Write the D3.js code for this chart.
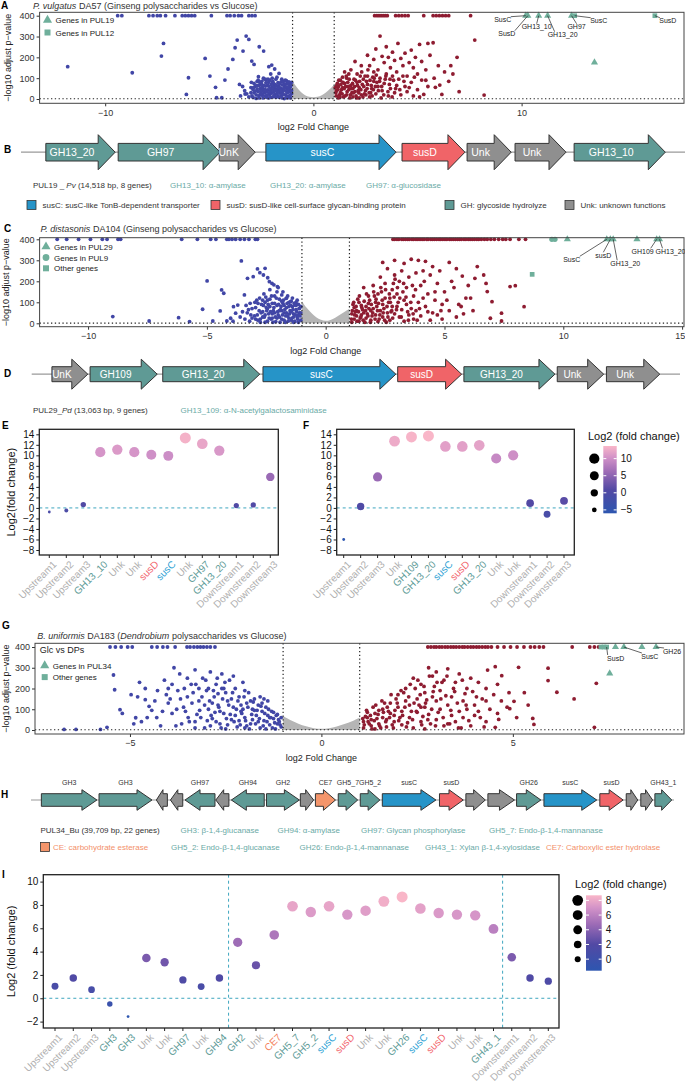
<!DOCTYPE html>
<html>
<head>
<meta charset="utf-8">
<script src="https://cdn.jsdelivr.net/npm/d3@7"></script>
<style>
body{margin:0;background:#fff}
text{font-family:"Liberation Sans",Arial,Helvetica,sans-serif}
</style>
</head>
<body>
<svg id="fig" width="685" height="1085"></svg>
<script>
// ---------------- volcano A : P. vulgatus DA57 ----------------
var aDownTop = [-9.4,-9.2,-7.9,-7.7,-7.5,-7.35,-7.1,-6.65,-6.3,-6.15,-6.0,-5.85,-5.7,-4.9,-4.15,-4.0,-3.8,-3.6,-3.45,-3.1,-2.95,-2.8];
var aUpTop = [2.94,3.05,3.15,3.25,3.35,3.45,3.55,3.95,4.1,4.25,4.4,4.55,5.3,5.75,5.9,6.05,6.2,6.35,6.5,7.55];
var aDown = [[-11.8,155],[-8.7,126],[-7.2,267],[-7.3,206],[-6.0,102],[-6.1,22],[-5.2,195],[-4.97,110],[-4.7,56],[-4.65,6],[-4.4,6],[-4.25,91],[-4.1,144],[-3.87,190],[-3.76,246],[-3.66,283],[-3.38,230],[-3.23,302],[-3.1,286],[-2.96,182],[-2.85,166],[-2.6,251],[-2.39,230],[-2.14,155],[-2.0,163],[-1.86,144],[-1.65,123],[-3.55,70],[-3.28,24],[-2.9,46],[-2.64,107],[-2.43,46],[-2.28,94],[-1.97,75],[-1.54,46],[-1.23,43],
 [-3.1,10],[-3.0,30],[-2.9,8],[-2.8,60],[-2.75,20],[-2.7,85],[-2.65,35],[-2.6,5],[-2.55,50],[-2.5,72],[-2.45,18],[-2.4,100],[-2.35,30],[-2.3,62],[-2.25,8],[-2.2,44],[-2.15,80],[-2.1,22],[-2.05,120],[-2.0,55],[-1.95,10],[-1.9,35],[-1.85,70],[-1.8,95],[-1.75,48],[-1.7,15],[-1.65,62],[-1.6,28],[-1.55,82],[-1.5,5],[-1.45,40],[-1.4,65],[-1.35,20],[-1.3,52],[-1.25,75],[-1.2,12],[-1.15,35],[-1.1,58],[-1.05,80],[-1.05,25],[-1.1,5],[-1.2,45],[-1.3,88],[-1.4,2],[-1.5,30],[-1.6,50],[-1.7,78],[-1.8,8],[-1.9,60],[-2.0,28],[-2.1,90],[-2.2,65],[-2.3,15],[-2.4,40],[-2.5,28],[-2.6,65],[-2.7,48],[-2.85,30],[-3.0,55],[-3.3,40],[-3.5,15],[-1.15,70],[-1.25,30],[-1.35,60],[-1.45,85],[-1.55,15],[-1.65,40],[-1.75,25],[-1.85,50],[-1.95,85],[-2.05,40],[-2.15,5],
 [-2.95,15],[-2.85,75],[-2.75,3],[-2.65,90],[-2.55,22],[-2.45,58],[-2.35,95],[-2.25,35],[-2.15,62],[-2.05,8],[-1.95,48],[-1.85,22],[-1.75,105],[-1.65,8],[-1.55,52],[-1.45,22],[-1.35,90],[-1.25,5],[-1.15,50],[-1.05,40],[-1.08,65],[-1.12,18],[-1.18,82],[-1.22,58],[-1.28,12],[-1.32,38],[-1.38,72],[-1.42,50],[-1.48,68],[-1.52,95],[-1.58,40],[-1.62,75],[-1.68,55],[-1.72,35],[-1.78,65],[-1.82,40],[-1.88,15],[-1.92,75],[-1.98,100],[-2.02,70],[-2.08,52],[-2.12,30],[-2.18,95],[-2.22,20],[-2.28,78],[-2.32,45],[-2.38,65],[-2.42,5],[-2.48,85],[-2.52,40],[-2.58,80],[-2.62,15],[-2.72,65],[-2.78,38],[-2.88,55],[-2.98,80],[-3.2,25],[-3.4,60]];
var aUp = [[2.9,190],[3.2,302],[3.5,251],[4.06,267],[4.7,235],[5.1,262],[5.5,267],[5.75,270],[7.75,283],[6.9,200],[6.7,120],[6.07,67],[5.86,56],[7.0,35],[8.2,19],[6.17,22],[5.3,22],[5.2,91],
 [2.6,210],[2.7,160],[3.0,240],[3.1,140],[3.3,205],[3.4,175],[3.6,200],[3.7,150],[3.8,225],[3.9,185],[4.0,130],[4.2,195],[4.3,160],[4.4,220],[4.5,110],[4.6,175],[4.8,150],[4.9,200],[5.0,120],[5.2,180],[5.4,140],[5.6,210],[5.8,100],[6.0,160],[6.3,130],[6.5,85],[6.6,160],[5.5,60],[5.0,45],[4.7,80],[4.4,60],[4.1,95],[3.8,110],[3.5,120],[3.2,100],[2.9,130],[2.6,110],[2.3,160],[2.1,120],[2.0,180],[1.8,140],[1.6,100],[1.5,130],[1.3,90],[1.2,60],[1.1,40],[1.1,15],[1.2,5],[1.3,30],[1.4,55],[1.5,75],[1.6,20],[1.7,45],[1.8,65],[1.9,10],[2.0,35],[2.1,80],[2.2,55],[2.3,20],[2.4,95],[2.5,40],[2.6,70],[2.7,10],[2.8,50],[2.9,85],[3.0,25],[3.1,60],[3.3,40],[3.4,75],[3.6,15],[3.7,50],[3.9,30],[4.0,65],[4.2,20],[4.5,35],[4.8,15],[5.1,10],[1.15,75],[1.25,20],[1.35,45],[1.45,10],[1.55,60],[1.65,80],[1.75,5],[1.85,30],[1.95,95],[2.05,15],[2.15,40],[2.25,110],[2.35,70],[2.45,25],[2.55,85],[2.75,30],[2.85,105],[3.05,80],[3.25,5],[3.45,95],[3.65,70],[3.85,90],[4.35,85],[1.05,55],[1.9,50],[2.2,5],[1.4,105],[1.7,120],
 [1.08,30],[1.12,65],[1.18,45],[1.22,90],[1.28,10],[1.32,70],[1.38,25],[1.42,80],[1.48,50],[1.52,15],[1.58,110],[1.62,35],[1.68,60],[1.72,95],[1.78,20],[1.82,50],[1.88,75],[1.92,30],[1.98,60],[2.02,90],[2.08,5],[2.12,65],[2.18,30],[2.22,85],[2.28,45],[2.32,130],[2.38,10],[2.42,60],[2.48,110],[2.52,20],[2.58,50],[2.62,140],[2.68,30],[2.72,90],[2.78,65],[2.82,15],[2.88,45],[2.92,100],[2.98,60],[3.02,115],[3.12,40],[3.18,85],[3.28,60],[3.38,20],[3.48,110],[3.58,35],[3.68,95],[3.78,10],[3.95,50],[4.15,45],[4.3,110],[4.6,55],[4.85,105],[5.4,90]];
var aNs = [[-1,85],[-0.8,55],[-0.6,32],[-0.4,17],[-0.2,10],[0,8],[0.2,10],[0.4,17],[0.6,30],[0.8,48],[1,70]];
var aPulX = [10.2,10.3,10.82,11.25,12.4,12.55,16.4,13.5];
var aPulY = [400,400,400,400,400,400,400,176];
var aPulShape = ["tri","tri","tri","tri","tri","sq","sq","tri"];
var aPulName = ["SusC","SusD","GH13_10","GH13_20","GH97","SusC","SusD",""];
var aLegend = ["Genes in PUL19","Genes in PUL12"];

// ---------------- volcano C : P. distasonis DA104 ----------------
var cDownTop = [-11.3,-10.9,-10.4,-9.9,-9.4,-9.2,-8.74,-8.63,-6.06,-5.4,-4.84,-4.62,-4.16,-4.07,-3.94,-3.79,-3.6,-3.42,-3.23,-2.96,-2.87];
var cUpTop = [2.83,2.9,3.0,3.08,3.2,3.27,3.36,3.45,3.52,3.63,3.7,3.8,3.88,3.97,4.06,4.14,4.25,4.31,4.42,4.5,4.58,4.67,4.77,4.84,4.93,5.02,5.1,5.21,5.28,5.37,5.46,5.55,5.63,5.71,5.82,5.9,6.0,6.08,6.17,6.26,6.36,6.44,6.55,6.68,6.8,6.95,7.1,7.28,7.45,7.58,7.76,8.13,8.41];
var cDown = [[-8.96,32],[-7.43,11],[-6.19,27],[-5.73,8],[-5.18,67],[-4.99,202],[-4.75,11],[-4.38,159],[-4.29,143],[-4.44,59],[-4.16,11],[-4.0,24],[-3.88,79],[-3.79,48],[-3.7,87],[-3.55,297],[-3.42,135],[-3.29,214],[-3.18,95],[-3.05,222],[-2.87,259],[-2.77,241],[-2.62,230],[-2.55,262],[-2.44,217],[-2.37,198],[-2.26,190],[-2.18,183],[-2.03,175],[-1.85,135],[-1.66,119],[-1.48,103],[-1.29,87],[-1.1,71],
 [-3.4,20],[-3.3,50],[-3.2,10],[-3.1,70],[-3.0,35],[-2.9,110],[-2.85,15],[-2.8,60],[-2.7,90],[-2.65,30],[-2.6,140],[-2.55,5],[-2.5,75],[-2.45,110],[-2.4,45],[-2.35,160],[-2.3,20],[-2.25,95],[-2.2,60],[-2.15,130],[-2.1,8],[-2.05,85],[-2.0,40],[-1.95,115],[-1.9,65],[-1.85,20],[-1.8,95],[-1.75,50],[-1.7,5],[-1.65,75],[-1.6,35],[-1.55,100],[-1.5,60],[-1.45,15],[-1.4,80],[-1.35,45],[-1.3,10],[-1.25,65],[-1.2,30],[-1.15,90],[-1.1,50],[-1.05,15],[-1.05,80],[-1.15,40],[-1.25,100],[-1.35,5],[-1.45,55],[-1.55,25],[-1.65,120],[-1.75,85],[-1.85,60],[-1.95,30],[-2.05,150],[-2.15,50],[-2.25,25],[-2.35,80],[-2.45,10],[-2.55,100],[-2.65,55],[-2.75,20],[-2.95,75],[-3.15,40],[-3.35,85],[-3.6,30],[-3.9,10],[-1.2,110],[-1.4,120],[-1.6,130],[-1.8,150],[-2.0,170],
 [-2.95,20],[-2.85,95],[-2.75,5],[-2.65,110],[-2.55,40],[-2.45,70],[-2.35,115],[-2.25,45],[-2.15,95],[-2.05,25],[-1.95,60],[-1.85,105],[-1.75,15],[-1.65,50],[-1.55,80],[-1.45,105],[-1.35,30],[-1.25,85],[-1.15,5],[-1.05,50],[-1.08,35],[-1.12,70],[-1.18,20],[-1.22,55],[-1.28,40],[-1.32,95],[-1.38,65],[-1.42,25],[-1.48,85],[-1.52,45],[-1.58,10],[-1.62,95],[-1.68,35],[-1.72,65],[-1.78,110],[-1.82,40],[-1.88,80],[-1.92,5],[-1.98,90],[-2.02,55],[-2.08,120],[-2.12,30],[-2.18,75],[-2.22,5],[-2.28,130],[-2.32,55],[-2.38,25],[-2.42,90],[-2.48,60],[-2.52,125],[-2.58,30],[-2.62,85],[-2.72,50],[-2.78,120],[-2.88,40],[-2.98,100],[-3.1,25],[-3.25,65],[-3.5,55]];
var cUp = [[2.4,290],[2.9,300],[3.3,285],[3.6,305],[3.9,300],[4.2,295],[4.5,270],[4.8,250],[5.2,290],[5.5,260],[5.75,225],[6.38,270],[6.28,214],[6.65,230],[6.75,190],[6.8,151],[7.0,103],[7.4,48],[7.76,175],[7.98,179],[8.35,79],[7.4,11],[6.93,24],[6.2,60],[5.9,120],[6.0,180],[5.6,90],[5.3,200],[5.0,150],[4.7,190],[4.4,230],[4.1,250],[3.8,240],[3.5,220],[3.2,250],[2.9,230],[2.6,260],[2.3,220],[2.0,180],[1.8,130],[1.6,170],[1.4,100],[2.2,140],[2.5,190],[2.8,160],[3.1,200],[3.4,170],[3.7,130],[4.0,180],[4.3,140],[4.6,110],[4.9,90],[5.2,60],[5.5,30],[5.8,45],[4.9,20],[4.5,50],[4.2,80],[3.9,100],[3.6,70],[3.3,110],[3.0,80],[2.7,120],[2.4,90],[2.1,100],[1.9,60],[1.7,80],[1.5,40],[1.3,60],[1.2,20],[1.1,45],[1.1,5],[1.2,75],[1.3,35],[1.4,10],[1.5,85],[1.6,50],[1.7,25],[1.8,95],[1.9,15],[2.0,70],[2.1,40],[2.2,8],[2.3,60],[2.4,30],[2.5,120],[2.6,50],[2.7,15],[2.8,80],[2.9,45],[3.0,140],[3.1,30],[3.2,65],[3.3,10],[3.4,90],[3.5,40],[3.7,20],[3.8,60],[4.0,35],[4.1,120],[4.4,15],[4.7,40],[5.1,110],[1.15,90],[1.25,55],[1.35,115],[1.45,25],[1.55,65],[1.65,5],[1.75,45],[1.85,110],[1.95,35],[2.05,130],[2.15,80],[2.25,20],[2.35,150],[2.45,70],[2.55,5],[2.65,100],[2.75,55],[2.85,190],[3.05,100],[3.25,150],[3.45,55],[3.65,180],[3.85,15],
 [1.08,20],[1.12,60],[1.18,100],[1.22,40],[1.28,80],[1.32,10],[1.38,55],[1.42,130],[1.48,30],[1.52,75],[1.58,15],[1.62,105],[1.68,60],[1.72,140],[1.78,35],[1.82,70],[1.88,5],[1.92,90],[1.98,50],[2.02,150],[2.08,20],[2.12,115],[2.18,60],[2.22,95],[2.28,40],[2.32,170],[2.38,110],[2.42,50],[2.48,15],[2.52,160],[2.58,80],[2.62,30],[2.68,140],[2.72,100],[2.78,60],[2.82,25],[2.88,125],[2.92,210],[2.98,65],[3.02,170],[3.12,120],[3.18,30],[3.28,190],[3.38,125],[3.48,15],[3.58,100],[3.68,45],[3.78,160],[3.95,70],[4.15,200],[4.3,55],[4.6,150],[4.85,60],[5.4,170],[5.7,80],[6.1,120]];
var cNs = [[-1,105],[-0.8,72],[-0.6,48],[-0.4,28],[-0.2,15],[0,10],[0.2,15],[0.4,26],[0.6,40],[0.8,55],[1,70]];
var cPulX = [9.52,9.65,10.17,11.83,11.98,12.1,13.1,13.93,14.05,8.69];
var cPulY = [400,400,400,400,400,400,400,400,400,233];
var cPulShape = ["cir","cir","tri","tri","tri","tri","tri","tri","tri","sq"];
var cPulName = ["","","","SusC","susD","GH13_20","","GH109","GH13_20",""];
var cLegend = ["Genes in PUL29","Genes in PUL9","Other genes"];

// ---------------- volcano G : B. uniformis DA183 ----------------
var gDownTop = [-5.52,-5.38,-5.23,-5.06,-4.94,-4.43,-4.29,-4.14,-4.02,-3.82,-3.51,-3.43,-3.33,-3.24,-3.16,-3.08,-2.99,-2.9,-2.78];
var gUpTop = [2.78,2.86,2.94,3.0,3.08,3.15,3.23,3.3,3.38,3.45,3.52,3.6,3.68,3.74,3.82,3.9,3.97,4.05,4.12,4.2,4.28,4.35,4.44,4.6,4.77,4.94,5.11,5.29,5.46,5.57,5.69,5.8,6.55,7.01,7.13,7.24];
var gDown = [[-6.72,3],[-6.41,3],[-5.77,3],[-5.6,13],[-5.43,265],[-5.4,194],[-5.26,98],[-4.97,170],[-4.85,59],[-4.6,146],[-4.5,114],[-4.43,95],[-4.28,190],[-4.8,160],[-4.7,40],[-4.3,60],[-4.1,240],[-4.0,130],[-3.9,80],[-3.85,300],[-3.8,20],[-3.75,190],[-3.7,270],[-3.6,110],[-3.5,160],[-3.45,40],[-3.4,220],[-3.3,290],[-3.25,75],[-3.2,140],[-3.1,250],[-3.05,10],[-3.0,190],[-2.95,100],[-2.9,280],[-2.85,55],[-2.8,160],[-2.75,220],[-2.7,120],[-2.65,30],[-2.6,270],[-2.55,80],[-2.5,180],[-2.45,140],[-2.4,240],[-2.35,50],[-2.3,110],[-2.25,200],[-2.2,15],[-2.15,160],[-2.1,90],[-2.05,230],[-2.0,60],[-1.95,130],[-1.9,180],[-1.85,30],[-1.8,100],[-1.75,150],[-1.7,70],[-1.65,120],[-1.6,10],[-1.55,90],[-1.5,45],[-1.45,110],[-1.4,70],[-1.35,25],[-1.3,90],[-1.25,55],[-1.2,5],[-1.15,75],[-1.1,40],[-1.05,60],[-1.05,15],[-1.15,30],[-1.25,85],[-1.35,60],[-1.45,5],[-1.55,130],[-1.65,40],[-1.75,95],[-1.85,140],[-1.95,20],[-2.05,100],[-2.15,45],[-2.25,70],[-2.35,150],[-2.45,25],[-2.55,200],[-2.65,90],[-2.75,40],[-2.85,130],[-2.95,200],[-3.05,120],[-3.15,60],[-3.35,180],[-3.55,90],[-3.65,30],[-3.95,150],[-4.2,20],[-4.6,200],[-4.9,30],[-5.2,80],[-3.3,10],[-2.5,5],[-2.0,10],[-1.6,160],[-1.8,50],[-2.3,260],[-2.7,175],[-3.2,200],[-3.5,250],[-4.0,200],[-1.4,140],[-2.1,120],[-2.9,20],
 [-1.08,25],[-1.12,50],[-1.18,70],[-1.22,35],[-1.28,10],[-1.32,60],[-1.38,100],[-1.42,40],[-1.48,80],[-1.52,20],[-1.58,115],[-1.62,55],[-1.68,95],[-1.72,30],[-1.78,135],[-1.82,75],[-1.88,5],[-1.92,110],[-1.98,45],[-2.02,160],[-2.08,80],[-2.12,25],[-2.18,140],[-2.22,100],[-2.28,40],[-2.32,180],[-2.38,75],[-2.42,120],[-2.48,55],[-2.52,230],[-2.58,150],[-2.62,10],[-2.68,110],[-2.72,250],[-2.78,85],[-2.82,190],[-2.88,70],[-2.92,140],[-2.98,45],[-3.02,240],[-3.12,160],[-3.18,95],[-3.28,220],[-3.38,130],[-3.48,60],[-3.58,200],[-3.68,150],[-3.78,100],[-3.9,220],[-4.05,170],[-4.15,90],[-4.35,140],[-4.55,60],[-4.75,230],[-3.3,40],[-2.6,200],[-2.0,190],[-1.5,150]];
var gUp = [[7.18,225],[6.6,150],[7.13,13],[6.15,182],[5.92,238],[5.92,298],[5.55,27],[5.52,56],[5.03,138],[4.92,103],[5.15,302],[4.54,305],[4.34,289],[4.71,262],[4.63,51],[4.54,13],
 [2.8,300],[3.0,280],[3.3,295],[3.6,270],[3.9,250],[4.1,230],[4.3,200],[4.5,170],[4.7,140],[4.9,180],[5.1,60],[5.4,120],[4.4,100],[4.2,150],[4.0,120],[3.8,200],[3.5,230],[3.2,240],[2.9,260],[2.6,220],[2.4,250],[2.2,200],[2.0,170],[1.8,130],[1.6,100],[1.4,80],[1.2,60],[2.7,180],[3.1,190],[3.4,160],[3.7,140],[4.0,70],[4.3,40],[3.9,20],[3.6,90],[3.3,120],[3.0,140],[2.7,110],[2.5,150],[2.3,120],[2.1,90],[1.9,70],[1.7,50],[1.5,30],[1.3,20],[1.1,40],[1.1,10],[1.2,85],[1.3,50],[1.4,5],[1.5,95],[1.6,60],[1.7,15],[1.8,80],[1.9,40],[2.0,110],[2.1,25],[2.2,140],[2.3,60],[2.4,10],[2.5,85],[2.6,40],[2.7,5],[2.8,75],[2.9,160],[3.0,50],[3.1,100],[3.2,20],[3.4,70],[3.5,40],[3.7,60],[3.8,100],[4.1,90],[4.6,80],[1.15,65],[1.25,30],[1.35,110],[1.45,55],[1.55,10],[1.65,130],[1.75,90],[1.85,25],[1.95,150],[2.05,60],[2.15,180],[2.25,35],[2.35,90],[2.45,200],[2.55,120],[2.65,65],[2.75,145],[2.85,30],[2.95,210],[3.05,85],[3.15,230],[3.25,165],[3.35,30],[3.45,200],[3.55,130],[3.65,10],[3.75,175],[3.85,45],[4.05,160],[4.25,15],
 [1.08,55],[1.12,25],[1.18,95],[1.22,40],[1.28,70],[1.32,5],[1.38,45],[1.42,120],[1.48,75],[1.52,20],[1.58,140],[1.62,85],[1.68,40],[1.72,110],[1.78,60],[1.82,170],[1.88,10],[1.92,95],[1.98,130],[2.02,45],[2.08,190],[2.12,70],[2.18,110],[2.22,15],[2.28,160],[2.32,220],[2.38,50],[2.42,130],[2.48,90],[2.52,240],[2.58,170],[2.62,25],[2.68,210],[2.72,130],[2.78,50],[2.82,260],[2.88,100],[2.92,185],[2.98,20],[3.02,230],[3.12,150],[3.18,60],[3.28,260],[3.38,95],[3.48,185],[3.58,10],[3.68,240],[3.78,120],[3.95,185],[4.15,60],[4.3,140],[4.6,220],[4.85,110],[5.3,180],[3.3,30],[2.6,110]];
var gNs = [[-1,68],[-0.8,46],[-0.6,30],[-0.4,17],[-0.2,8],[0,5],[0.2,8],[0.4,16],[0.6,28],[0.8,42],[1,60]];
var gPulX = [7.3,7.38,7.45,7.68,7.9,8.37,8.74,7.53];
var gPulY = [400,400,400,400,400,400,400,273];
var gPulShape = ["sq","sq","sq","tri","tri","tri","tri","tri"];
var gPulName = ["","","SusD","","SusC","","GH26",""];
var gLegend = ["Genes in PUL34","Other genes"];

// ---------------- gene clusters (kb) ----------------
var pul19Name = ["GH13_20","GH97","UnK","susC","susD","Unk","Unk","GH13_10"];
var pul19Start = [0.58,2.27,4.63,5.72,8.9,10.42,11.54,12.92];
var pul19End = [2.2,4.65,5.47,8.76,10.37,11.45,12.73,15.05];
var pul29Name = ["UnK","GH109","GH13_20","susC","susD","GH13_20","Unk","Unk"];
var pul29Start = [0.44,1.27,2.85,5.03,7.96,9.4,11.43,12.5];
var pul29End = [1.22,2.73,4.96,7.92,9.35,11.38,12.44,13.66];
var pul34Name = ["GH3","GH3","Unk","Unk","GH97","Unk","GH94","GH2","Unk","CE7","GH5_7","GH5_2","susC","susD","Unk","Unk","GH26","susC","susD","Unk","Unk","GH43_1"];
var pul34Start = [0.64,4.2,7.74,8.61,9.51,11.41,12.37,14.54,16.63,17.56,18.97,20.33,21.69,25.22,26.85,28.21,29.98,31.67,35.12,36.75,37.65,38.52];
var pul34End = [4.07,7.47,8.42,9.37,11.36,12.22,14.4,16.57,17.45,18.8,20.17,21.54,25.0,26.69,28.05,29.85,31.48,34.93,36.56,37.46,38.38,39.56];
var pul34Strand = [1,1,-1,-1,-1,-1,-1,1,1,1,1,1,1,1,1,1,1,1,1,1,1,1];

// ---------------- fold-change dot plots ----------------
var eCats = ["Upstream1","Upstream2","Upstream3","GH13_10","Unk","Unk","susD","susC","Unk","GH97","GH13_20","Downstream1","Downstream2","Downstream3"];
var eVals = [-0.77,-0.5,0.63,10.6,11.1,10.6,10.1,9.9,13.3,12.2,10.9,0.44,0.57,5.9];
var fCats = ["Upstream1","Upstream2","Upstream3","Unk","GH109","GH13_20","susC","susD","GH13_20","Unk","Unk","Downstream1","Downstream2","Downstream3"];
var fVals = [-6.0,0.26,5.9,12.7,13.5,13.7,11.7,11.7,11.9,9.4,10.0,0.9,-1.2,1.35];
var iCats = ["Upstream1","Upstream2","Upstream3","GH3","GH3","Unk","Unk","GH97","Unk","GH94","GH2","Unk","CE7","GH5_7","GH5_2","susC","susD","Unk","Unk","GH26","susC","susD","Unk","Unk","GH43_1","Downstream1","Downstream2","Downstream3"];
var iVals = [1.03,1.74,0.74,-0.49,-1.57,3.46,3.09,1.57,1.0,1.74,4.8,2.83,5.43,7.89,7.4,7.89,7.17,7.51,8.31,8.69,7.69,7.31,7.17,7.11,5.94,3.51,1.74,1.46];
var efLegendVals = [10,5,0,-5];
var iLegendVals = [8,6,4,2,0];

// ---------------- styles ----------------
var BLUE = "#4146a6", RED = "#8e1c31", GRN = "#6faf9b", NSC = "#b5b5b5";
var geneFill = {GH:"#5f9a95", susC:"#2694c8", susD:"#f06468", Unk:"#8f8f8f", CE:"#f4956b"};
var TEAL_TXT = "#6aaaa6", ORANGE_TXT = "#f3906a";
var stopT = [0,0.35,0.62,0.83,1];
var stopC = ["#2d56b0","#5249a4","#9e6cb6","#d292c8","#f9b6c8"];

var svg = d3.select("#fig");
var defs = svg.append("defs");

function geneType(n){
  if (n.indexOf("GH")===0) return "GH";
  if (n==="susC"||n==="susD") return n;
  if (n.indexOf("CE")===0) return "CE";
  return "Unk";
}
function catColor(n){
  var t = geneType(n);
  if (t==="GH") return "#5f9c98";
  if (t==="susC") return "#2b9fd4";
  if (t==="susD") return "#f2646c";
  if (t==="CE") return "#f4845f";
  return "#b0b0b0";
}
function minus(v){ return v<0 ? "\u2212"+(-v) : ""+v; }

function label(x, y, t){
  svg.append("text").attr("x",x).attr("y",y).attr("font-size",10)
    .attr("font-weight","bold").text(t);
}

function richText(x, y, parts, size, fill){
  var t = svg.append("text").attr("x",x).attr("y",y).attr("font-size",size).attr("fill",fill);
  parts.forEach(function(p){
    t.append("tspan").attr("font-style", p[1] ? "italic" : "normal").text(p[0]);
  });
}

function symbolFor(s, size){
  var type = s==="tri" ? d3.symbolTriangle : s==="sq" ? d3.symbolSquare : d3.symbolCircle;
  return d3.symbol().type(type).size(size)();
}

function volcano(c){
  var x = d3.scaleLinear().domain(c.xDom).range([c.left,c.right]);
  var y = d3.scaleLinear().domain([0,400]).range([c.y0,c.y400]);
  var g = svg.append("g");

  g.append("path").datum(c.ns)
    .attr("d", d3.area().x(function(d){return x(d[0]);}).y0(y(0)).y1(function(d){return y(d[1]);}).curve(d3.curveBasis))
    .attr("fill",NSC);

  function pts(arr, col){
    g.append("g").selectAll("circle").data(arr).join("circle")
      .attr("cx",function(d){return x(d[0]);}).attr("cy",function(d){return y(d[1]);})
      .attr("r",1.9).attr("fill",col);
  }
  pts(c.down.concat(c.downTop.map(function(v){return [v,400];})), BLUE);
  pts(c.up.concat(c.upTop.map(function(v){return [v,400];})), RED);

  // thresholds
  [-1,1].forEach(function(v){
    g.append("line").attr("x1",x(v)).attr("x2",x(v)).attr("y1",c.top).attr("y2",c.bottom)
      .attr("stroke","#222").attr("stroke-width",1.2).attr("stroke-dasharray","1.3,2.5");
  });
  g.append("line").attr("x1",c.left).attr("x2",c.right).attr("y1",y(1.3)).attr("y2",y(1.3))
    .attr("stroke","#222").attr("stroke-width",1.2).attr("stroke-dasharray","1.3,2.5");

  // highlighted genes
  c.pulX.forEach(function(v,i){
    g.append("path").attr("d",symbolFor(c.pulShape[i],22))
      .attr("transform","translate("+x(v)+","+y(c.pulY[i])+")").attr("fill",GRN);
  });
  c.pulX.forEach(function(v,i){
    var o = c.labOff[i];
    if (!c.pulName[i] || !o) return;
    var px = x(v), py = y(c.pulY[i]);
    var lx = px+o[0], ly = py+o[1];
    var ex = lx + (o[0]< -8 ? 8 : o[0]>8 ? -8 : 0);
    g.append("line").attr("x1",px).attr("y1",py).attr("x2",ex).attr("y2",ly-3)
      .attr("stroke","#222").attr("stroke-width",0.7);
    g.append("text").attr("x",lx).attr("y",ly+2.5).attr("text-anchor","middle")
      .attr("font-size",7).attr("fill","#222").text(c.pulName[i]);
  });

  // legend
  var ly0 = c.legY;
  if (c.legTitle){
    g.append("text").attr("x",c.legX-3).attr("y",ly0).attr("font-size",9).attr("fill","#222").text(c.legTitle);
    ly0 += 13;
  }
  c.legend.forEach(function(t,i){
    var yy = ly0 + i*c.legStep;
    g.append("path").attr("d",symbolFor(c.legShape[i],36))
      .attr("transform","translate("+(c.legX+2)+","+yy+")").attr("fill",GRN);
    g.append("text").attr("x",c.legX+10).attr("y",yy+3).attr("font-size",8).attr("fill","#222").text(t);
  });

  // axes
  var ax = g.append("g").attr("transform","translate(0,"+c.bottom+")")
    .call(d3.axisBottom(x).tickValues(c.xt).tickSize(3).tickPadding(3).tickFormat(minus));
  var ay = g.append("g").attr("transform","translate("+c.left+",0)")
    .call(d3.axisLeft(y).tickValues([0,100,200,300,400]).tickSize(3).tickPadding(2));
  [ax,ay].forEach(function(a){
    a.select(".domain").remove();
    a.selectAll("line").attr("stroke","#333");
    a.selectAll("text").attr("font-size",9).attr("fill","#333").attr("font-family",null);
  });
  // keep an edge tick label inside the picture
  ax.selectAll("text").filter(function(d){ return x(d) > 676; }).attr("text-anchor","end").attr("dx","0.3em");

  g.append("rect").attr("x",c.left).attr("y",c.top).attr("width",c.right-c.left).attr("height",c.bottom-c.top)
    .attr("fill","none").attr("stroke","#444").attr("stroke-width",1);

  g.append("text").attr("x",x(0)).attr("y",c.bottom+27).attr("text-anchor","middle")
    .attr("font-size",9).attr("fill","#222").text("log2 Fold Change");
  g.append("text").attr("transform","translate("+c.ylabX+","+((c.top+c.bottom)/2)+") rotate(-90)")
    .attr("text-anchor","middle").attr("font-size",9).attr("fill","#222").text("\u2212log10 adjust p\u2212value");
}

function genes(c){
  var x = d3.scaleLinear().domain(c.dom).range(c.range);
  var g = svg.append("g");
  g.append("line").attr("x1",x(c.dom[0])).attr("x2",x(c.dom[1])).attr("y1",c.cy).attr("y2",c.cy)
    .attr("stroke","#9a9a9a").attr("stroke-width",1.2);
  c.names.forEach(function(n,i){
    var s = x(c.start[i]), e = x(c.end[i]), dir = c.strand ? c.strand[i] : 1;
    var h = Math.min(c.hl, (e-s)*0.6), cy = c.cy, b = c.bh, hh = c.hh, p;
    if (dir>0){
      p = [[s,cy-b],[e-h,cy-b],[e-h,cy-hh],[e,cy],[e-h,cy+hh],[e-h,cy+b],[s,cy+b]];
    } else {
      p = [[e,cy-b],[s+h,cy-b],[s+h,cy-hh],[s,cy],[s+h,cy+hh],[s+h,cy+b],[e,cy+b]];
    }
    g.append("path").attr("d","M"+p.join("L")+"Z").attr("fill",geneFill[geneType(n)])
      .attr("stroke","#333").attr("stroke-width",1);
    if (c.inside){
      g.append("text").attr("x",(s+e-h)/2+ (dir>0?0:h)).attr("y",cy+3.8).attr("text-anchor","middle")
        .attr("font-size",c.fs).attr("fill","#fff").text(n);
    } else if (geneType(n)!=="Unk"){
      g.append("text").attr("x",(s+e)/2).attr("y",c.cy-15.5).attr("text-anchor","middle")
        .attr("font-size",7).attr("fill","#333").text(n);
    }
  });
}

function colorScale(dom){
  return d3.scaleLinear().domain(stopT.map(function(t){return dom[0]+t*(dom[1]-dom[0]);}))
    .range(stopC).interpolate(d3.interpolateLab);
}

function dotPlot(c){
  var n = c.cats.length;
  var x = d3.scaleLinear().domain([0,n-1]).range([c.x0,c.x1]);
  var y = d3.scaleLinear().domain(c.yDom).range(c.yRange);
  var ext = d3.extent(c.vals);
  var col = colorScale(c.colDom);
  var g = svg.append("g");

  g.append("line").attr("x1",c.left).attr("x2",c.right).attr("y1",y(0)).attr("y2",y(0))
    .attr("stroke","#3ea6bf").attr("stroke-width",1).attr("stroke-dasharray","3,3");
  (c.vlines||[]).forEach(function(v){
    g.append("line").attr("x1",x(v)).attr("x2",x(v)).attr("y1",c.top).attr("y2",c.bottom)
      .attr("stroke","#3ea6bf").attr("stroke-width",1).attr("stroke-dasharray","3,3");
  });

  g.selectAll("circle.pt").data(c.vals).join("circle").attr("class","pt")
    .attr("cx",function(d,i){return x(i);}).attr("cy",function(d){return y(d);})
    .attr("r",function(d){return 1.4+4.1*Math.sqrt((d-ext[0])/(ext[1]-ext[0]));})
    .attr("fill",function(d){return col(d);});

  g.append("rect").attr("x",c.left).attr("y",c.top).attr("width",c.right-c.left).attr("height",c.bottom-c.top)
    .attr("fill","none").attr("stroke","#222").attr("stroke-width",1.3);

  var ay = g.append("g").attr("transform","translate("+c.left+",0)")
    .call(d3.axisLeft(y).tickValues(c.yTicks).tickSize(3).tickPadding(2));
  ay.select(".domain").remove();
  ay.selectAll("line").attr("stroke","#222");
  ay.selectAll("text").attr("font-size",10).attr("fill","#111").attr("font-family",null);

  c.cats.forEach(function(nm,i){
    g.append("line").attr("x1",x(i)).attr("x2",x(i)).attr("y1",c.bottom).attr("y2",c.bottom+3).attr("stroke","#222");
    g.append("text").attr("transform","translate("+(x(i)+3)+","+(c.bottom+5)+") rotate(-45)")
      .attr("text-anchor","end").attr("dy","0.7em").attr("font-size",10).attr("fill",catColor(nm)).text(nm);
  });

  if (c.ytitle){
    g.append("text").attr("transform","translate("+c.ylabX+","+((c.top+c.bottom)/2)+") rotate(-90)")
      .attr("text-anchor","middle").attr("font-size",11).attr("fill","#111").text(c.ytitle);
  }
}

function fcLegend(c){
  var g = svg.append("g");
  var yb = d3.scaleLinear().domain(c.dom).range([c.bBot,c.bTop]);
  var id = "grad"+c.id;
  var gr = defs.append("linearGradient").attr("id",id).attr("x1",0).attr("y1",1).attr("x2",0).attr("y2",0);
  stopT.forEach(function(t,i){ gr.append("stop").attr("offset",t).attr("stop-color",stopC[i]); });
  g.append("text").attr("x",c.tx).attr("y",c.ty).attr("font-size",11).attr("fill","#111").text("Log2 (fold change)");
  g.append("rect").attr("x",c.bx).attr("y",c.bTop).attr("width",c.bw).attr("height",c.bBot-c.bTop).attr("fill","url(#"+id+")");
  c.vals.forEach(function(v){
    var yy = yb(v);
    g.append("circle").attr("cx",c.dx).attr("cy",yy)
      .attr("r",1.4+4.1*Math.sqrt((v-c.sizeDom[0])/(c.sizeDom[1]-c.sizeDom[0]))).attr("fill","#000");
    g.append("line").attr("x1",c.bx).attr("x2",c.bx+3).attr("y1",yy).attr("y2",yy).attr("stroke","#fff");
    g.append("line").attr("x1",c.bx+c.bw-3).attr("x2",c.bx+c.bw).attr("y1",yy).attr("y2",yy).attr("stroke","#fff");
    g.append("text").attr("x",c.bx+c.bw+4).attr("y",yy+3.5).attr("font-size",10).attr("fill","#111").text(minus(v));
  });
}

// ================= panel A =================
label(1,9,"A");
richText(33,9,[["P. vulgatus",true],[" DA57 (Ginseng polysaccharides vs Glucose)",false]],9,"#333");
volcano({xDom:[-13.15,17.8], left:39.6, right:684, top:12.3, bottom:103.3, y0:99, y400:15.7, xt:[-10,0,10], ylabX:11,
  ns:aNs, down:aDown, downTop:aDownTop, up:aUp, upTop:aUpTop,
  pulX:aPulX, pulY:aPulY, pulShape:aPulShape, pulName:aPulName,
  labOff:[[-23,4],[-21,18],[-2,11],[15,19],[5,11],[24,5],[13,5],null],
  legend:aLegend, legShape:["tri","sq"], legX:45.5, legY:20, legStep:12.5});

// ================= panel B =================
label(4,152.5,"B");
genes({dom:[0,15.51], range:[21,685], cy:152.2, bh:8.8, hh:17.5, hl:17, inside:true, fs:10.5,
  names:pul19Name, start:pul19Start, end:pul19End});
richText(33,188,[["PUL19 _ ",false],["Pv",true],[" (14,518 bp, 8 genes)",false]],8,"#333");
var bNotes = ["GH13_10: \u03b1-amylase","GH13_20: \u03b1-amylase","GH97: \u03b1-glucosidase"];
var bNoteX = [170,270,366];
bNotes.forEach(function(t,i){ svg.append("text").attr("x",bNoteX[i]).attr("y",188).attr("font-size",8).attr("fill",TEAL_TXT).text(t); });
var typeLegend = ["susC: susC-like TonB-dependent transporter","susD: susD-like cell-surface glycan-binding protein","GH: glycoside hydrolyze","Unk: unknown functions"];
var typeKey = ["susC","susD","GH","Unk"];
var typeX = [27,211,445,565];
typeLegend.forEach(function(t,i){
  svg.append("rect").attr("x",typeX[i]).attr("y",200.5).attr("width",9).attr("height",9)
    .attr("fill",geneFill[typeKey[i]]).attr("stroke","#333").attr("stroke-width",0.8);
  svg.append("text").attr("x",typeX[i]+15.5).attr("y",208).attr("font-size",8).attr("fill","#333").text(t);
});

// ================= panel C =================
label(4,232,"C");
richText(40.5,232,[["P. distasonis",true],[" DA104 (Ginseng polysaccharides vs Glucose)",false]],9,"#333");
volcano({xDom:[-12.04,15.08], left:39.6, right:684, top:237.7, bottom:326.7, y0:323.3, y400:239.3, xt:[-10,-5,0,5,10,15], ylabX:9,
  ns:cNs, down:cDown, downTop:cDownTop, up:cUp, upTop:cUpTop,
  pulX:cPulX, pulY:cPulY, pulShape:cPulShape, pulName:cPulName,
  labOff:[null,null,null,[-35,20],[-7,16],[12,24],null,[-14,12],[11,12],null],
  legend:cLegend, legShape:["tri","cir","sq"], legX:44, legY:246.7, legStep:10.8});

// ================= panel D =================
label(4,377,"D");
genes({dom:[0,14.1], range:[31.7,680], cy:374.2, bh:7.5, hh:15, hl:16, inside:true, fs:10,
  names:pul29Name, start:pul29Start, end:pul29End});
richText(33,413,[["PUL29_",false],["Pd",true],[" (13,063 bp, 9 genes)",false]],8,"#333");
svg.append("text").attr("x",180.6).attr("y",413).attr("font-size",8).attr("fill",TEAL_TXT).text("GH13_109: \u03b1-N-acetylgalactosaminidase");

// ================= panels E, F =================
label(2,428.5,"E");
label(303,428.5,"F");
var efColDom = d3.extent(eVals.concat(fVals));
dotPlot({cats:eCats, vals:eVals, colDom:efColDom, left:39.3, right:278.3, top:429.3, bottom:555, x0:49.3, x1:270.3,
  yDom:[-8,14], yRange:[550,434.3], yTicks:d3.range(-8,15,2), ytitle:"Log2(fold change)", ylabX:15});
dotPlot({cats:fCats, vals:fVals, colDom:efColDom, left:336.7, right:574.3, top:429.3, bottom:555, x0:343.7, x1:564,
  yDom:[-8,14], yRange:[550,434.3], yTicks:d3.range(-8,15,2)});
fcLegend({id:"ef", dom:efColDom, sizeDom:d3.extent(fVals), vals:efLegendVals, tx:588, ty:440,
  bx:603.3, bw:13.4, bTop:446, bBot:513.3, dx:594.3});

// ================= panel G =================
label(2,629,"G");
richText(37.3,639,[["B. uniformis",true],[" DA183 (",false],["Dendrobium",true],[" polysaccharides vs Glucose)",false]],9,"#333");
volcano({xDom:[-7.48,9.47], left:35, right:684, top:643.3, bottom:734, y0:730, y400:647, xt:[-5,0,5], ylabX:9,
  ns:gNs, down:gDown, downTop:gDownTop, up:gUp, upTop:gUpTop,
  pulX:gPulX, pulY:gPulY, pulShape:gPulShape, pulName:gPulName,
  labOff:[null,null,[9,11],null,[26,9],null,[16,4],null],
  legTitle:"Glc vs DPs", legend:gLegend, legShape:["tri","sq"], legX:42.7, legY:652.5, legStep:11.6});

// ================= panel H =================
label(1,797.5,"H");
genes({dom:[0,39.7], range:[31,674], cy:800, bh:6.3, hh:10.3, hl:15, inside:false,
  names:pul34Name, start:pul34Start, end:pul34End, strand:pul34Strand});
richText(40.5,833,[["PUL34_Bu (39,709 bp, 22 genes)",false]],8,"#333");
var hNotes1 = ["GH3: \u03b2-1,4-glucanase","GH94: \u03b1-amylase","GH97: Glycan phosphorylase","GH5_7: Endo-\u03b2-1,4-mannanase"];
var hNoteX1 = [180.6,277.5,361,489];
hNotes1.forEach(function(t,i){ svg.append("text").attr("x",hNoteX1[i]).attr("y",833).attr("font-size",8).attr("fill",TEAL_TXT).text(t); });
svg.append("rect").attr("x",40.5).attr("y",842.5).attr("width",9).attr("height",9).attr("fill",geneFill.CE).attr("stroke","#333").attr("stroke-width",0.8);
var hNotes2 = ["CE: carbohydrate esterase","GH5_2: Endo-\u03b2-1,4-glucanase","GH26: Endo-\u03b2-1,4-mannanase","GH43_1: Xylan \u03b2-1,4-xylosidase","CE7: Carboxylic ester hydrolase"];
var hNoteX2 = [53,171,299.5,425,546];
hNotes2.forEach(function(t,i){ svg.append("text").attr("x",hNoteX2[i]).attr("y",850).attr("font-size",8)
  .attr("fill", t.indexOf("CE")===0 ? ORANGE_TXT : TEAL_TXT).text(t); });

// ================= panel I =================
label(2,878,"I");
var iColDom = d3.extent(iVals);
dotPlot({cats:iCats, vals:iVals, colDom:iColDom, left:43.3, right:559, top:874.7, bottom:1028, x0:55, x1:548.3,
  yDom:[-2,10], yRange:[1021.6,881.6], yTicks:d3.range(-2,11,2), ytitle:"Log2 (fold change)", ylabX:15, vlines:[9.5,24.5]});
fcLegend({id:"i", dom:iColDom, sizeDom:iColDom, vals:iLegendVals, tx:575, ty:888,
  bx:586, bw:15.7, bTop:895.3, bBot:970.7, dx:577.7});
</script>
</body>
</html>
